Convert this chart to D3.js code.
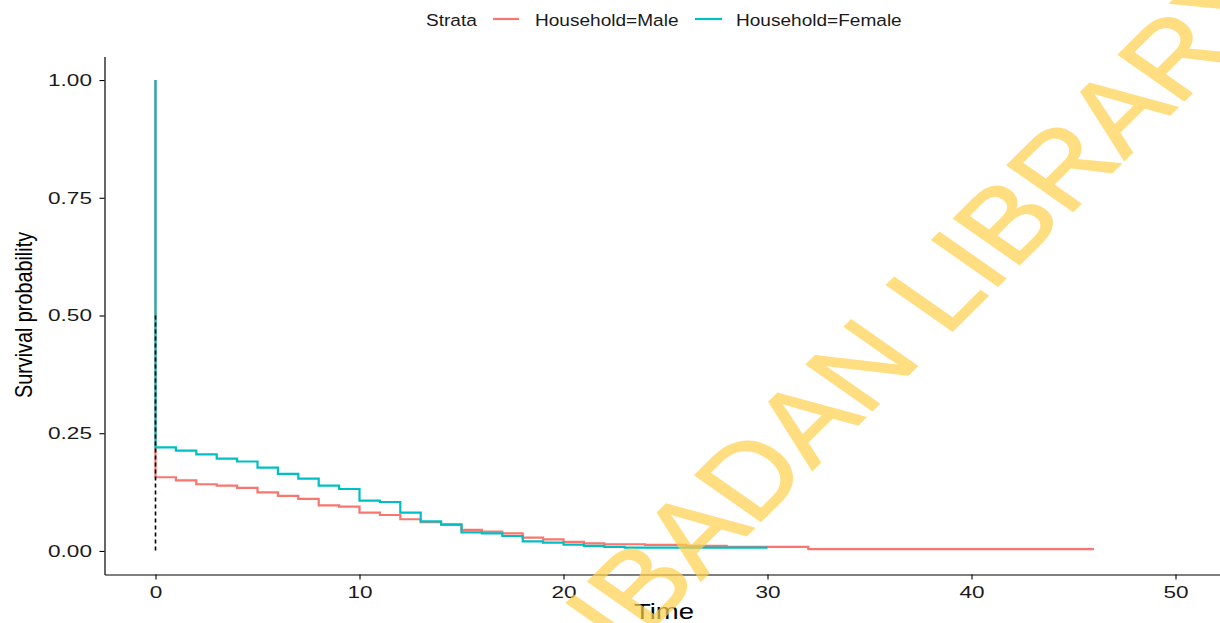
<!DOCTYPE html>
<html>
<head>
<meta charset="utf-8">
<script src="https://cdn.jsdelivr.net/npm/d3@7"></script>
<style>
  html, body { margin: 0; padding: 0; background: #fff; }
  svg { display: block; font-family: "Liberation Sans", Arial, sans-serif; }
</style>
</head>
<body>
<script>
// Kaplan-Meier estimates by household head (time, survival probability)
const maleTimes = [0, 0, 1, 2, 3, 4, 5, 6, 7, 8, 9, 10, 11, 12, 13, 14, 15, 16, 17, 18, 19, 20, 21, 22, 24, 26, 28, 32, 46];
const maleSurv  = [1, 0.1565, 0.150, 0.1416, 0.1387, 0.1338, 0.1246, 0.1168, 0.1104, 0.097, 0.094, 0.0813, 0.0764, 0.0673, 0.061, 0.0552, 0.0446, 0.041, 0.0375, 0.0283, 0.0248, 0.0191, 0.0163, 0.0142, 0.0128, 0.0106, 0.0085, 0.004, 0.004];

const femaleTimes = [0, 0, 1, 2, 3, 4, 5, 6, 7, 8, 9, 10, 11, 12, 13, 14, 15, 16, 17, 18, 19, 20, 21, 22, 23, 30];
const femaleSurv  = [1, 0.220, 0.213, 0.205, 0.196, 0.190, 0.177, 0.1635, 0.1535, 0.1387, 0.1316, 0.1068, 0.104, 0.0813, 0.063, 0.0566, 0.0396, 0.0375, 0.0318, 0.0205, 0.0177, 0.0134, 0.0106, 0.0085, 0.0071, 0.0071];

const strataNames = ["Household=Male", "Household=Female"];
const strataColors = ["#F8766D", "#00BFC4"];

const xTicks = [0, 10, 20, 30, 40, 50];
const yTicks = [0, 0.25, 0.5, 0.75, 1];

// median survival reference (time, probability)
const medianTime = 0;
const medianProb = 0.5;

const W = 1220, H = 623;
const svg = d3.select("body").append("svg").attr("width", W).attr("height", H);

const x = d3.scaleLinear().domain([-2.5, 52.5]).range([104.5, 1226.5]);
const y = d3.scaleLinear().domain([-0.05, 1.05]).range([574.5, 56.5]);

const stretchTick = 1.33;

// axes
const gx = svg.append("g").attr("transform", `translate(0,${y(-0.05)})`)
  .call(d3.axisBottom(x).tickValues(xTicks).tickSize(5).tickSizeOuter(0).tickPadding(6));
const gy = svg.append("g").attr("transform", `translate(${x(-2.5)},0)`)
  .call(d3.axisLeft(y).tickValues(yTicks).tickFormat(d3.format(".2f")).tickSize(5).tickSizeOuter(0));

[gx, gy].forEach(g => {
  g.select(".domain").attr("stroke", "#000").attr("stroke-width", 1.2);
  g.selectAll(".tick line").attr("stroke", "#000").attr("stroke-width", 1.1);
  g.selectAll(".tick text").attr("fill", "#1a1a1a").attr("font-size", 17)
    .attr("font-family", "Liberation Sans, Arial, sans-serif");
});
gx.selectAll(".tick text").attr("transform", `scale(${stretchTick},1)`);
gy.selectAll(".tick text").attr("transform", `scale(${stretchTick},1)`)
  .attr("x", -12.5 / stretchTick);

// survival step curves
const series = [
  { name: strataNames[0], color: strataColors[0], t: maleTimes, s: maleSurv },
  { name: strataNames[1], color: strataColors[1], t: femaleTimes, s: femaleSurv }
];
const line = d3.line().x(d => x(d[0])).y(d => y(d[1])).curve(d3.curveStepAfter);
series.forEach(sr => {
  const pts = sr.t.map((t, i) => [t, sr.s[i]]);
  svg.append("path").datum(pts).attr("d", line)
    .attr("fill", "none").attr("stroke", sr.color).attr("stroke-width", 2.2);
});

// median survival line
svg.append("line")
  .attr("x1", x(medianTime)).attr("x2", x(medianTime))
  .attr("y1", y(medianProb)).attr("y2", y(0))
  .attr("stroke", "#000").attr("stroke-width", 1.6).attr("stroke-dasharray", "4,3");

// axis titles
svg.append("g").attr("transform", `translate(664,618.5) scale(1.25,1)`)
  .append("text").attr("text-anchor", "middle").attr("font-size", 22).attr("fill", "#000").text("Time");
svg.append("g").attr("transform", `translate(32,315) scale(1.2,1) rotate(-90)`)
  .append("text").attr("text-anchor", "middle").attr("font-size", 19.8).attr("fill", "#000").text("Survival probability");

// legend
const legendFont = 16.3, legendStretch = 1.17;
const legendTitleX = 426, legendY = 20;
const legendItems = [
  { x0: 493, x1: 519, tx: 535 },
  { x0: 695, x1: 722, tx: 736 }
];
svg.append("g").attr("transform", `translate(${legendTitleX},${legendY + 6}) scale(${legendStretch},1)`)
  .append("text").attr("font-size", legendFont).attr("fill", "#1a1a1a").text("Strata");
legendItems.forEach((it, i) => {
  svg.append("line").attr("x1", it.x0).attr("x2", it.x1).attr("y1", legendY - 1).attr("y2", legendY - 1)
    .attr("stroke", strataColors[i]).attr("stroke-width", 2.2);
  svg.append("g").attr("transform", `translate(${it.tx},${legendY + 6}) scale(${legendStretch},1)`)
    .append("text").attr("font-size", legendFont).attr("fill", "#1a1a1a").text(strataNames[i]);
});

// library watermark
svg.append("g").attr("transform", `translate(922,303) scale(1.2,1) rotate(-50)`)
  .attr("opacity", 0.7)
  .append("text").attr("text-anchor", "middle").attr("dy", "0.36em")
  .attr("font-size", 104).attr("fill", "#FFD04D")
  .attr("stroke", "#FFD04D").attr("stroke-width", 1.5)
  .text("IBADAN LIBRARY");
</script>
</body>
</html>
